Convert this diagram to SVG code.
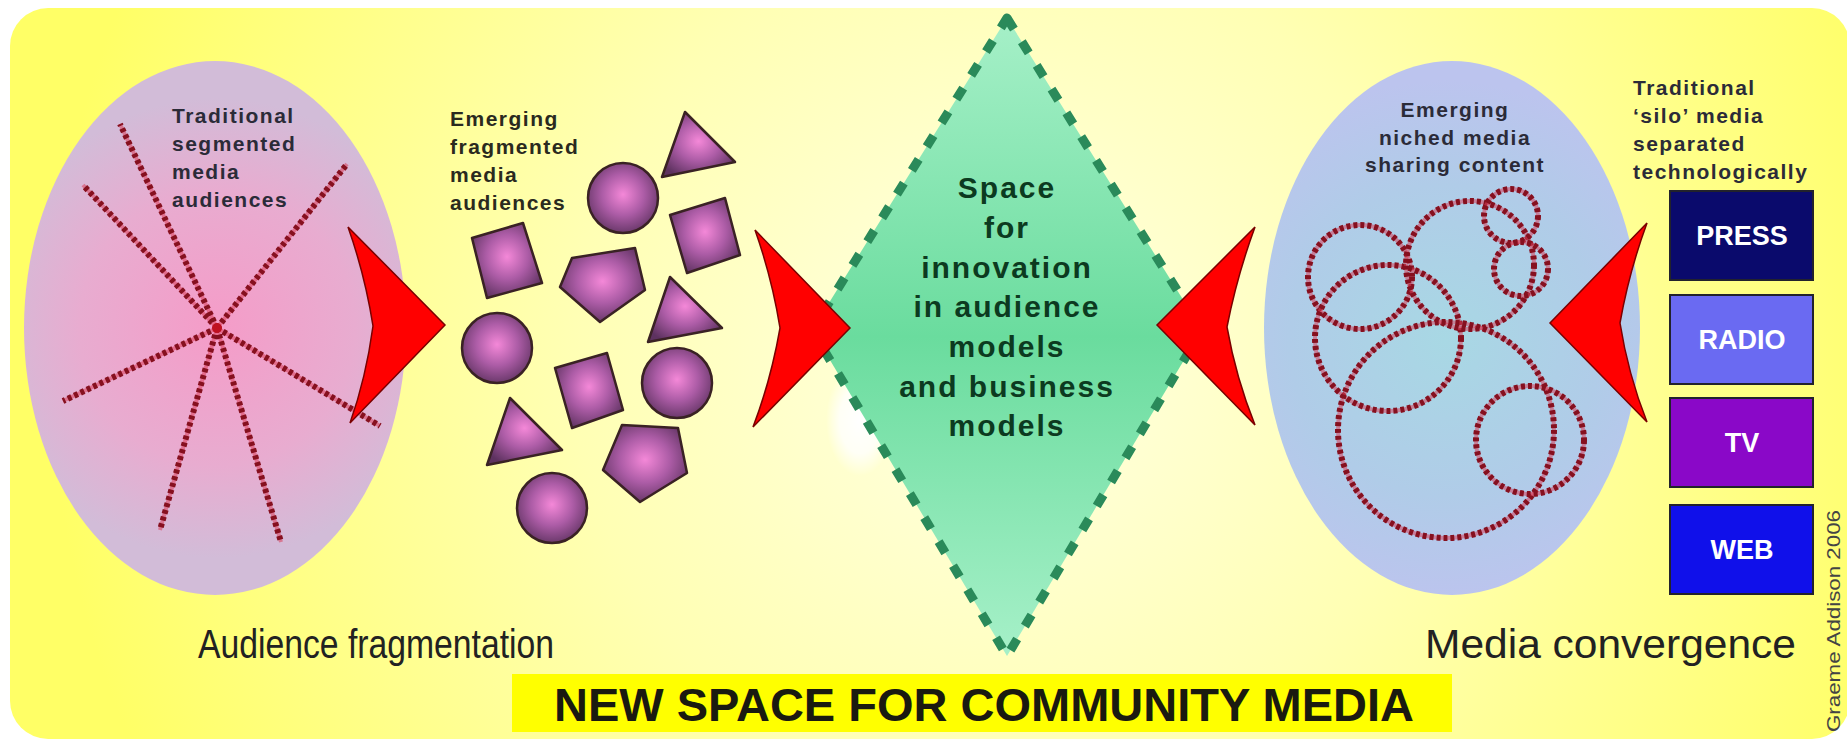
<svg xmlns="http://www.w3.org/2000/svg" width="1847" height="742" viewBox="0 0 1847 742">
  <defs>
    <radialGradient id="bgGrad" cx="1000" cy="360" r="950" gradientUnits="userSpaceOnUse">
      <stop offset="0" stop-color="#ffffe4"/>
      <stop offset="0.45" stop-color="#ffffb4"/>
      <stop offset="1" stop-color="#ffff66"/>
    </radialGradient>
    <radialGradient id="pinkGrad" cx="217" cy="328" r="230" gradientUnits="userSpaceOnUse">
      <stop offset="0" stop-color="#f59cc8"/>
      <stop offset="0.6" stop-color="#e8acd0"/>
      <stop offset="1" stop-color="#d2bcd8"/>
    </radialGradient>
    <radialGradient id="blueGrad" cx="1445" cy="340" r="260" gradientUnits="userSpaceOnUse">
      <stop offset="0" stop-color="#a8d8e4"/>
      <stop offset="0.6" stop-color="#b0cce8"/>
      <stop offset="1" stop-color="#bcc4ee"/>
    </radialGradient>
    <radialGradient id="blobGrad" cx="0.5" cy="0.45" r="0.6">
      <stop offset="0" stop-color="#f488d8"/>
      <stop offset="0.5" stop-color="#ac5ca6"/>
      <stop offset="1" stop-color="#5e3260"/>
    </radialGradient>
    <linearGradient id="diamondGrad" x1="0" y1="0" x2="0" y2="1">
      <stop offset="0" stop-color="#a6f0c8"/>
      <stop offset="0.5" stop-color="#6adc9e"/>
      <stop offset="1" stop-color="#a6f0c8"/>
    </linearGradient>
    <radialGradient id="glareGrad" cx="0.5" cy="0.5" r="0.5">
      <stop offset="0" stop-color="#ffffff"/>
      <stop offset="0.6" stop-color="#ffffff" stop-opacity="0.8"/>
      <stop offset="1" stop-color="#ffffff" stop-opacity="0"/>
    </radialGradient>
    <style>
      .lbl { font-family: "Liberation Sans", Arial, sans-serif; font-weight: bold; font-size: 21px; letter-spacing: 1.5px; fill: #2b2b38; }
      .dots { fill: none; stroke: #86101f; stroke-width: 6; stroke-dasharray: 4 3; }
      .dotbase { fill: none; stroke: #d8405a; stroke-width: 4; opacity: 0.55; }
      .blob { fill: url(#blobGrad); stroke: #3a2224; stroke-width: 2.5; stroke-linejoin: round; }
      .chev { fill: #ff0000; stroke: #7a0000; stroke-width: 1.5; stroke-linejoin: miter; }
      .box { stroke: #22222c; stroke-width: 2; }
      .boxtxt { font-family: "Liberation Sans", Arial, sans-serif; font-weight: bold; font-size: 27px; fill: #ffffff; text-anchor: middle; }
      .caption { font-family: "Liberation Sans", Arial, sans-serif; font-size: 41px; fill: #222222; }
      .inner { font-family: "Liberation Sans", Arial, sans-serif; font-weight: bold; font-size: 30px; letter-spacing: 2px; fill: #0c3a20; text-anchor: middle; }
    </style>
  </defs>

  <!-- page background -->
  <rect x="0" y="0" width="1847" height="742" fill="#ffffff"/>
  <rect id="background" x="10" y="8" width="1840" height="731" rx="38" ry="38" fill="url(#bgGrad)"/>

  <!-- traditional segmented audiences -->
  <g id="traditional-audiences">
    <ellipse cx="215" cy="328" rx="191" ry="267" fill="url(#pinkGrad)"/>
    <g>
      <path class="dotbase" d="M217,328 L120,124 M217,328 L83,185 M217,328 L347,164 M217,328 L63,401 M217,328 L380,426 M217,328 L160,530 M217,328 L281,542"/>
      <path class="dots" d="M217,328 L120,124 M217,328 L83,185 M217,328 L347,164 M217,328 L63,401 M217,328 L380,426 M217,328 L160,530 M217,328 L281,542"/>
      <circle cx="217" cy="328" r="5" fill="#c01020"/>
    </g>
    <text class="lbl" x="172" y="123">Traditional</text>
    <text class="lbl" x="172" y="151">segmented</text>
    <text class="lbl" x="172" y="179">media</text>
    <text class="lbl" x="172" y="207">audiences</text>
  </g>

  <!-- emerging fragmented audiences -->
  <g id="fragmented-audiences">
    <text class="lbl" x="450" y="126" style="fill:#2a2a1e">Emerging</text>
    <text class="lbl" x="450" y="154" style="fill:#2a2a1e">fragmented</text>
    <text class="lbl" x="450" y="182" style="fill:#2a2a1e">media</text>
    <text class="lbl" x="450" y="210" style="fill:#2a2a1e">audiences</text>
    <polygon class="blob" points="685,112 735,162 662,177"/>
    <circle class="blob" cx="623" cy="198" r="35"/>
    <polygon class="blob" points="670,215 725,198 740,255 687,273"/>
    <polygon class="blob" points="472,238 523,223 542,283 487,298"/>
    <polygon class="blob" points="572,258 635,248 645,290 600,322 560,287"/>
    <polygon class="blob" points="670,277 722,328 648,342"/>
    <circle class="blob" cx="497" cy="348" r="35"/>
    <polygon class="blob" points="555,368 607,353 623,410 572,428"/>
    <circle class="blob" cx="677" cy="383" r="35"/>
    <polygon class="blob" points="510,398 562,450 487,465"/>
    <polygon class="blob" points="622,425 678,428 687,473 640,502 603,470"/>
    <circle class="blob" cx="552" cy="508" r="35"/>
  </g>

  <!-- central innovation space -->
  <g id="innovation-space">
    <ellipse cx="860" cy="420" rx="34" ry="56" fill="url(#glareGrad)"/>
    <polygon points="1007,18 1202,330 1007,656 812,330" fill="url(#diamondGrad)" stroke="#2a8a5a" stroke-width="9" stroke-dasharray="13 15" stroke-linejoin="round"/>
    <text class="inner" x="1007" y="198">Space</text>
    <text class="inner" x="1007" y="238">for</text>
    <text class="inner" x="1007" y="278">innovation</text>
    <text class="inner" x="1007" y="317">in audience</text>
    <text class="inner" x="1007" y="357">models</text>
    <text class="inner" x="1007" y="397">and business</text>
    <text class="inner" x="1007" y="436">models</text>
  </g>

  <!-- emerging niched media -->
  <g id="niched-media">
    <ellipse cx="1452" cy="328" rx="188" ry="267" fill="url(#blueGrad)"/>
    <g>
      <circle class="dotbase" cx="1360" cy="277" r="52"/>
      <circle class="dots" cx="1360" cy="277" r="52"/>
      <circle class="dotbase" cx="1388" cy="338" r="73"/>
      <circle class="dots" cx="1388" cy="338" r="73"/>
      <circle class="dotbase" cx="1470" cy="265" r="64"/>
      <circle class="dots" cx="1470" cy="265" r="64"/>
      <circle class="dotbase" cx="1446" cy="430" r="108"/>
      <circle class="dots" cx="1446" cy="430" r="108"/>
      <circle class="dotbase" cx="1530" cy="440" r="54"/>
      <circle class="dots" cx="1530" cy="440" r="54"/>
      <circle class="dotbase" cx="1511" cy="216" r="27"/>
      <circle class="dots" cx="1511" cy="216" r="27"/>
      <circle class="dotbase" cx="1521" cy="269" r="27"/>
      <circle class="dots" cx="1521" cy="269" r="27"/>
    </g>
    <text class="lbl" x="1455" y="117" text-anchor="middle">Emerging</text>
    <text class="lbl" x="1455" y="145" text-anchor="middle">niched media</text>
    <text class="lbl" x="1455" y="172" text-anchor="middle">sharing content</text>
  </g>

  <!-- traditional silo media -->
  <g id="silo-media">
    <text class="lbl" x="1633" y="95">Traditional</text>
    <text class="lbl" x="1633" y="123">‘silo’ media</text>
    <text class="lbl" x="1633" y="151">separated</text>
    <text class="lbl" x="1633" y="179">technologically</text>
    <g id="press">
      <rect class="box" x="1670" y="191" width="143" height="89" fill="#0a0a6c"/>
      <text class="boxtxt" x="1742" y="245">PRESS</text>
    </g>
    <g id="radio">
      <rect class="box" x="1670" y="295" width="143" height="89" fill="#6a6af2"/>
      <text class="boxtxt" x="1742" y="349">RADIO</text>
    </g>
    <g id="tv">
      <rect class="box" x="1670" y="398" width="143" height="89" fill="#8a08c8"/>
      <text class="boxtxt" x="1742" y="452">TV</text>
    </g>
    <g id="web">
      <rect class="box" x="1670" y="505" width="143" height="89" fill="#1010ea"/>
      <text class="boxtxt" x="1742" y="559">WEB</text>
    </g>
  </g>

  <!-- flow arrows -->
  <g id="connectors">
    <path class="chev" d="M348,227 L445,325 L350,423 Q366,378 373,326 Q365,275 348,227 Z"/>
    <path class="chev" d="M755,230 L850,328 L753,427 Q771,380 780,328 Q772,278 755,230 Z"/>
    <path class="chev" d="M1255,227 L1157,325 L1255,425 Q1236,378 1227,327 Q1237,276 1255,227 Z"/>
    <path class="chev" d="M1647,223 L1550,323 L1647,422 Q1628,374 1620,323 Q1629,272 1647,223 Z"/>
  </g>

  <!-- captions -->
  <g id="captions">
    <text class="caption" x="198" y="658" textLength="356" lengthAdjust="spacingAndGlyphs">Audience fragmentation</text>
    <text class="caption" x="1425" y="658" textLength="371" lengthAdjust="spacingAndGlyphs">Media convergence</text>
  </g>

  <g id="title">
    <rect x="512" y="674" width="940" height="58" fill="#ffff00"/>
    <text x="554" y="721" font-family="'Liberation Sans', Arial, sans-serif" font-weight="bold" font-size="46" fill="#1a1a10" textLength="860" lengthAdjust="spacingAndGlyphs">NEW SPACE FOR COMMUNITY MEDIA</text>
  </g>

  <g id="credit">
    <text transform="translate(1840,732) rotate(-90)" font-family="'Liberation Sans', Arial, sans-serif" font-size="19" fill="#444444" textLength="222" lengthAdjust="spacingAndGlyphs">Graeme Addison  2006</text>
  </g>
</svg>
